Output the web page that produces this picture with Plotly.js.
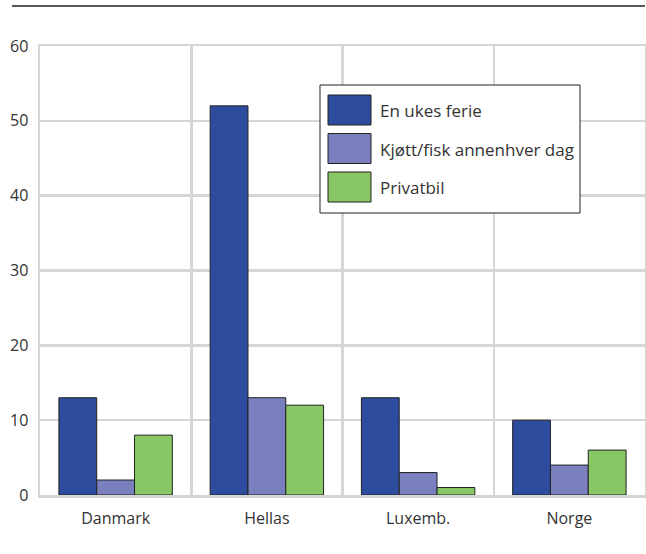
<!DOCTYPE html>
<html>
<head>
<meta charset="utf-8">
<script src="https://cdn.plot.ly/plotly-3.0.1.min.js"></script>
<style>html,body{margin:0;padding:0;background:#fff;}#chart{width:646px;height:554px;}</style>
</head>
<body>
<div id="chart"></div>
<script>
const categories = ["Danmark", "Hellas", "Luxemb.", "Norge"];
const seriesNames = ["En ukes ferie", "Kjøtt/fisk annenhver dag", "Privatbil"];
const enUkesFerie = [13, 52, 13, 10];
const kjottFisk = [2, 13, 3, 4];
const privatbil = [8, 12, 1, 6];
const yTicks = [0, 10, 20, 30, 40, 50, 60];

const colors = ["#2E4C9E", "#7A80BE", "#89C764"];
const values = [enUkesFerie, kjottFisk, privatbil];

const traces = values.map((v, i) => ({
  type: "bar",
  x: categories,
  y: v,
  name: seriesNames[i],
  marker: {color: colors[i], line: {color: "#222", width: 1}},
  showlegend: false
}));

// pixel -> paper helpers for the hand-drawn legend box
const M = {l: 40, r: 1, t: 46, b: 59}, W = 646, H = 554;
const pw = W - M.l - M.r, ph = H - M.t - M.b;
const px = x => (x - M.l) / pw;
const py = y => (H - M.b - y) / ph;

const grid = "#d6d6d6";
const shapes = [{
  type: "line", xref: "paper", yref: "paper",
  x0: px(12), x1: 1.0, y0: py(6), y1: py(6),
  line: {color: "#222", width: 1.5}
}, {
  type: "rect", xref: "paper", yref: "paper",
  x0: px(320), x1: px(580), y0: py(213), y1: py(85),
  fillcolor: "#fff", line: {color: "#222", width: 1}, layer: "above"
}];
const annotations = [];
seriesNames.forEach((name, i) => {
  const top = 95 + i * 38.5;
  shapes.push({
    type: "rect", xref: "paper", yref: "paper",
    x0: px(328), x1: px(371), y0: py(top + 30), y1: py(top),
    fillcolor: colors[i], line: {color: "#222", width: 1}, layer: "above"
  });
  annotations.push({
    xref: "paper", yref: "paper", x: px(378), y: py(top + 15.5),
    xanchor: "left", yanchor: "middle", showarrow: false,
    text: name, font: {size: 17, color: "#333"}
  });
});

const layout = {
  width: W, height: H,
  margin: M,
  paper_bgcolor: "#fff", plot_bgcolor: "#fff",
  font: {family: "Open Sans, Noto Sans, sans-serif", size: 16, color: "#333"},
  barmode: "group", bargap: 0.25, bargroupgap: 0,
  showlegend: false,
  xaxis: {
    type: "category",
    tickson: "boundaries",
    showgrid: true, gridcolor: grid, gridwidth: 2.5,
    showline: true, linecolor: grid, linewidth: 2.5, mirror: true,
    ticks: "", ticklabelstandoff: 7,
    tickfont: {size: 16, color: "#333"},
    fixedrange: true
  },
  yaxis: {
    range: [0, 60],
    tickvals: yTicks,
    ticktext: yTicks.map(String),
    showgrid: true, gridcolor: grid, gridwidth: 2.5,
    zeroline: false,
    showline: true, linecolor: grid, linewidth: 2.5, mirror: true,
    ticks: "", ticklabelstandoff: 6,
    tickfont: {size: 16, color: "#333"},
    fixedrange: true
  },
  shapes: shapes,
  annotations: annotations
};

Plotly.newPlot("chart", traces, layout, {displayModeBar: false, staticPlot: true});
</script>
</body>
</html>
